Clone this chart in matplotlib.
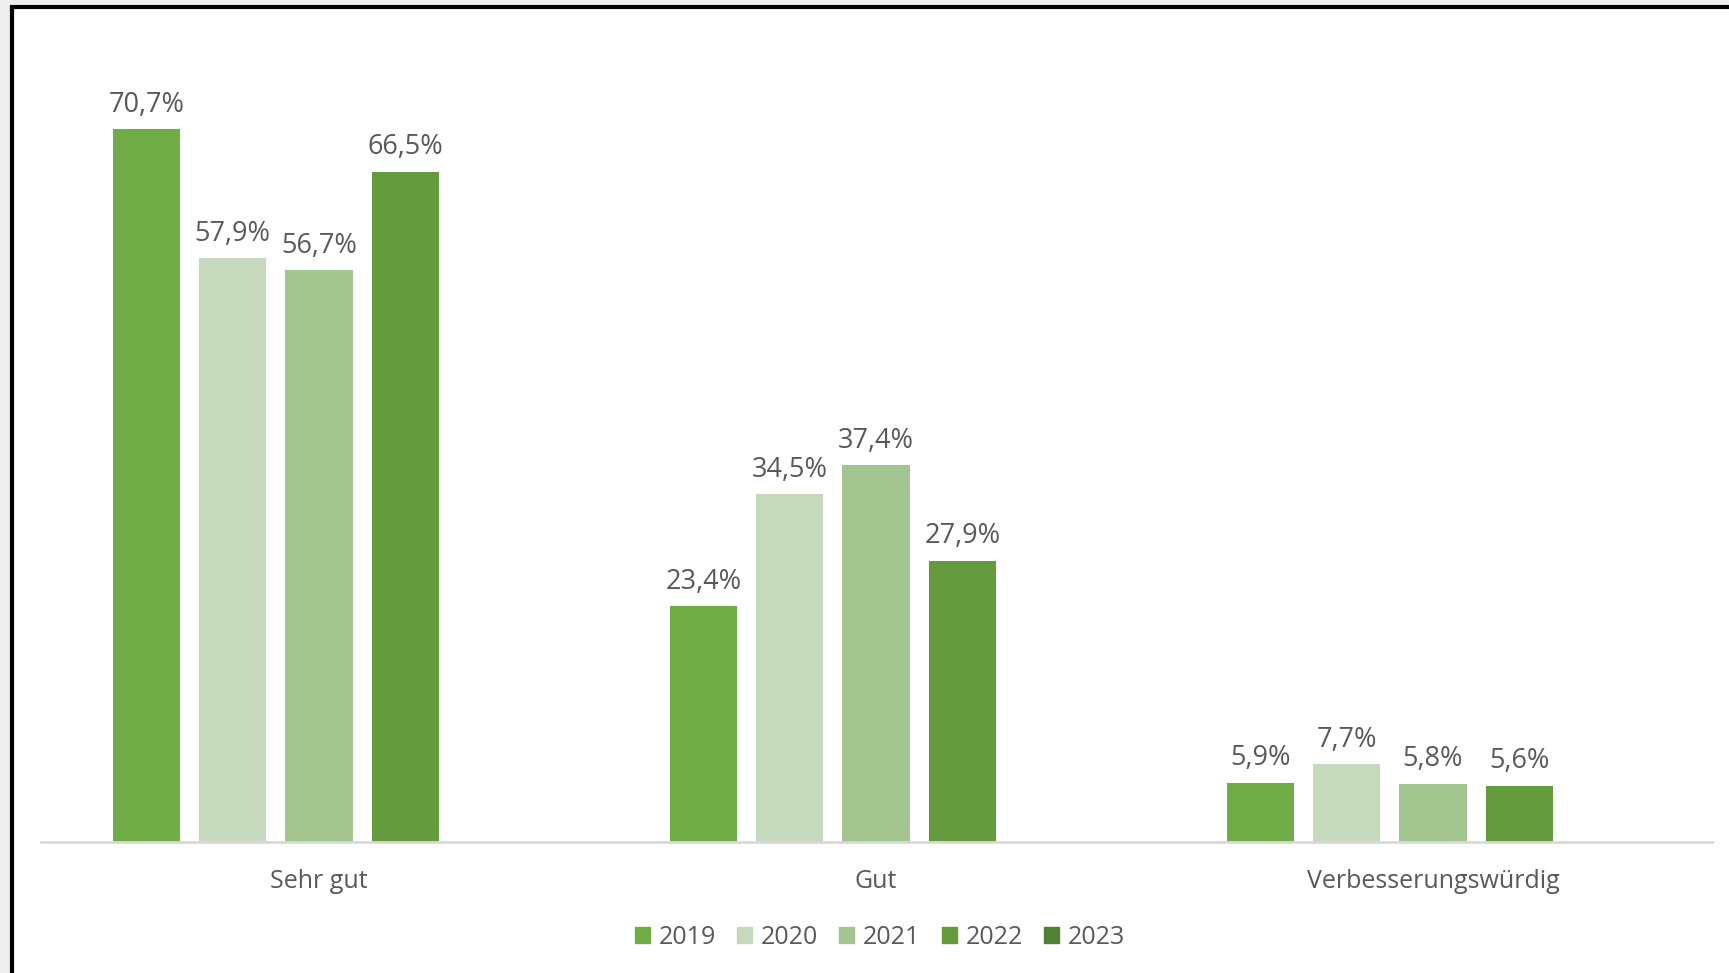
"""
Zufriedenheit nach Jahr - gruppierte Säulen (2019-2023).
"""
import matplotlib
matplotlib.use("Agg")
import matplotlib.pyplot as plt
import matplotlib.patches as mpatches
import numpy as np

plt.rcParams["font.family"] = ["Open Sans", "DejaVu Sans"]

CATEGORIES = ["Sehr gut", "Gut", "Verbesserungswürdig"]
YEARS = ["2019", "2020", "2021", "2022", "2023"]

VALUES_2019 = [70.7, 23.4, 5.9]
VALUES_2020 = [57.9, 34.5, 7.7]
VALUES_2021 = [56.7, 37.4, 5.8]
VALUES_2022 = [66.5, 27.9, 5.6]
VALUES_2023 = [np.nan, np.nan, np.nan]   # keine Werte, nur in der Legende

SERIES = [VALUES_2019, VALUES_2020, VALUES_2021, VALUES_2022, VALUES_2023]
COLORS = ["#70AD47", "#C5D9BC", "#A3C58F", "#639B3D", "#548235"]

TEXT_COLOR = "#595959"

W, H = 1729, 973
fig = plt.figure(figsize=(W / 100, H / 100), dpi=100)
fig.patch.set_facecolor("#EFEFEF")

# white panel with black frame (right/bottom edges run off the picture)
frame = mpatches.Rectangle((11.5 / W, -0.05), 1.2, 1 - 6.7 / H + 0.05,
                           transform=fig.transFigure, facecolor="white",
                           edgecolor="black", linewidth=3, zorder=-5)
fig.patches.append(frame)

ax = fig.add_axes([40.5 / W, 1 - 842 / H, 1671 / W, 806.4 / H])
ax.set_zorder(2)
ax.set_facecolor("none")

x = np.arange(len(CATEGORIES))
step = 0.155
width = 0.121

for j, (year, vals, col) in enumerate(zip(YEARS, SERIES, COLORS)):
    pos = x + (j - 2) * step
    ax.bar(pos, vals, width, color=col, label=year, zorder=2)
    for px, v in zip(pos, vals):
        if np.isnan(v):
            continue
        ax.annotate(f"{v:.1f}".replace(".", ",") + "%", (px, v),
                    xytext=(0, 12.5), textcoords="offset points",
                    ha="center", va="baseline", fontsize=19.5,
                    color=TEXT_COLOR)

ax.set_xlim(-0.5, 2.5)
ax.set_ylim(0, 80)
ax.set_yticks([])
ax.set_xticks([])
for side in ["top", "right", "left"]:
    ax.spines[side].set_visible(False)
ax.spines["bottom"].set_color("#D9D9D9")
ax.spines["bottom"].set_linewidth(2)

for xi, cat in zip(x, CATEGORIES):
    ax.annotate(cat, (xi, 0), xycoords=("data", "axes fraction"),
                xytext=(0, -33), textcoords="offset points",
                ha="center", va="baseline", fontsize=18, color=TEXT_COLOR)

handles = [mpatches.Patch(color=c, label=y) for y, c in zip(YEARS, COLORS)]
leg = fig.legend(handles=handles, loc="center", ncol=5, frameon=False,
                 bbox_to_anchor=(880 / W, 1 - 937 / H), fontsize=18,
                 labelcolor=TEXT_COLOR, handlelength=0.6, handleheight=0.6,
                 handletextpad=0.35, columnspacing=0.84)
leg.set_zorder(3)

fig.savefig("out.png", dpi=100, facecolor=fig.get_facecolor())
